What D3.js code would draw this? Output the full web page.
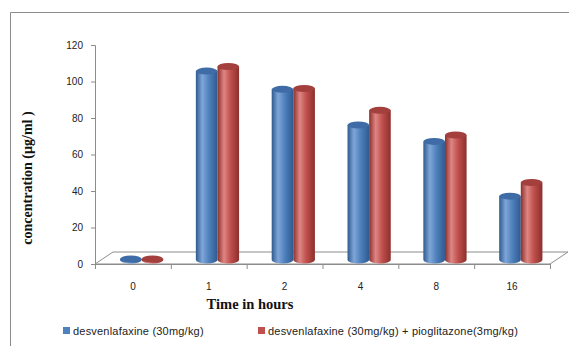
<!DOCTYPE html>
<html>
<head>
<meta charset="utf-8">
<script src="https://cdn.jsdelivr.net/npm/d3@7"></script>
<style>
  html, body { margin: 0; padding: 0; background: #fff; }
  svg { display: block; }
</style>
</head>
<body>
<svg id="chart" width="569" height="346"></svg>
<script>
// Plasma concentration over time, two treatment groups
const categories = ["0", "1", "2", "4", "8", "16"];
const seriesNames = [
  "desvenlafaxine (30mg/kg)",
  "desvenlafaxine (30mg/kg) + pioglitazone(3mg/kg)"
];
const desvenlafaxine = [0.5, 103.5, 93.5, 74, 65, 35];
const desvenlafaxinePioglitazone = [0.5, 106, 94, 82, 68.5, 42.5];
const yTicks = [0, 20, 40, 60, 80, 100, 120];

const seriesValues = [desvenlafaxine, desvenlafaxinePioglitazone];
const palette = [
  { light: "#7fa6d8", base: "#4f81bd", dark: "#2f5a8f", top: "#3f6ca6" },
  { light: "#de8684", base: "#c0504d", dark: "#8c2f2c", top: "#a33f3c" }
];

const svg = d3.select("#chart");
const axisColor = "#8c8c8c";

// Outer frame (left and top edges)
svg.append("path")
  .attr("d", "M10.5,346 L10.5,12.5 L569,12.5")
  .attr("fill", "none").attr("stroke", axisColor).attr("stroke-width", 1);

const plotLeft = 95, plotRight = 550, plotTop = 45, plotBottom = 264;
const depthX = 18, depthY = -12;

const x0 = d3.scaleBand().domain(categories).range([plotLeft, plotRight]).paddingInner(0).paddingOuter(0);
const x1 = d3.scaleBand().domain(d3.range(seriesNames.length))
  .range([x0.bandwidth() * 0.33, x0.bandwidth() * 0.9]);
const y = d3.scaleLinear().domain([0, 120]).range([plotBottom, plotTop]);

// Gradients for cylinder shading
const defs = svg.append("defs");
palette.forEach((c, i) => {
  const g = defs.append("linearGradient").attr("id", "cyl" + i)
    .attr("x1", "0%").attr("x2", "100%").attr("y1", "0%").attr("y2", "0%");
  g.append("stop").attr("offset", "0%").attr("stop-color", c.dark);
  g.append("stop").attr("offset", "30%").attr("stop-color", c.light);
  g.append("stop").attr("offset", "60%").attr("stop-color", c.base);
  g.append("stop").attr("offset", "100%").attr("stop-color", c.dark);
});

// 3D floor
svg.append("path")
  .attr("d", `M${plotLeft},${plotBottom} L${plotLeft + depthX},${plotBottom + depthY} L${plotRight + depthX},${plotBottom + depthY} L${plotRight},${plotBottom} Z`)
  .attr("fill", "#fff").attr("stroke", axisColor).attr("stroke-width", 1);

// Y axis
const yAxis = d3.axisLeft(y).tickValues(yTicks).tickSize(4).tickPadding(8);
const yG = svg.append("g").attr("transform", `translate(${plotLeft},0)`).call(yAxis);
yG.select(".domain").attr("stroke", axisColor);
yG.selectAll(".tick line").attr("stroke", axisColor);
yG.selectAll("text").attr("font-family", "Liberation Sans, Arial, sans-serif")
  .attr("font-size", 10).attr("fill", "#222");

// X axis
const xAxis = d3.axisBottom(x0).tickSize(0).tickPadding(19);
const xG = svg.append("g").attr("transform", `translate(0,${plotBottom})`).call(xAxis);
xG.select(".domain").attr("stroke", axisColor);
xG.selectAll("text").attr("font-family", "Liberation Sans, Arial, sans-serif")
  .attr("font-size", 10).attr("fill", "#222");
// category dividers
const dividers = categories.map(c => x0(c)).concat([plotRight]);
xG.selectAll("line.div").data(dividers).enter().append("line")
  .attr("class", "div")
  .attr("x1", d => d + 0.5).attr("x2", d => d + 0.5)
  .attr("y1", 0).attr("y2", 5)
  .attr("stroke", axisColor);

// Cylinders
const barBaseShift = -4;
const bars = [];
categories.forEach((cat, ci) => {
  seriesValues.forEach((vals, si) => {
    bars.push({ cat, si, v: vals[ci] });
  });
});

const barG = svg.append("g");
bars.forEach(b => {
  const left = x0(b.cat) + x1(b.si);
  const w = x1.bandwidth();
  const rx = w / 2, ry = 3.5;
  const cx = left + rx;
  const yBottom = y(0) + barBaseShift;
  const yTop = y(b.v) + barBaseShift;
  const g = barG.append("g");
  g.append("path")
    .attr("d", `M${left},${yTop} L${left},${yBottom} A${rx},${ry} 0 0 0 ${left + w},${yBottom} L${left + w},${yTop} Z`)
    .attr("fill", `url(#cyl${b.si})`);
  g.append("ellipse")
    .attr("cx", cx).attr("cy", yTop).attr("rx", rx).attr("ry", ry)
    .attr("fill", palette[b.si].top);
});

// Axis titles
svg.append("text")
  .attr("x", 250).attr("y", 309)
  .attr("text-anchor", "middle")
  .attr("font-family", "Liberation Serif, Times New Roman, serif")
  .attr("font-weight", "bold").attr("font-size", 14.5)
  .attr("fill", "#111")
  .text("Time in hours");

svg.append("text")
  .attr("transform", "translate(32,178) rotate(-90)")
  .attr("text-anchor", "middle")
  .attr("font-family", "Liberation Serif, Times New Roman, serif")
  .attr("font-weight", "bold").attr("font-size", 14)
  .attr("fill", "#111")
  .text("concentration (µg/ml )");

// Legend
const legendX = [63, 258];
const legend = svg.append("g");
seriesNames.forEach((name, i) => {
  legend.append("rect")
    .attr("x", legendX[i]).attr("y", 327).attr("width", 7).attr("height", 7)
    .attr("fill", palette[i].base);
  legend.append("text")
    .attr("x", legendX[i] + 10).attr("y", 334.5)
    .attr("font-family", "Liberation Sans, Arial, sans-serif")
    .attr("font-size", 11).attr("letter-spacing", 0.2).attr("fill", "#222")
    .text(name);
});
</script>
</body>
</html>
